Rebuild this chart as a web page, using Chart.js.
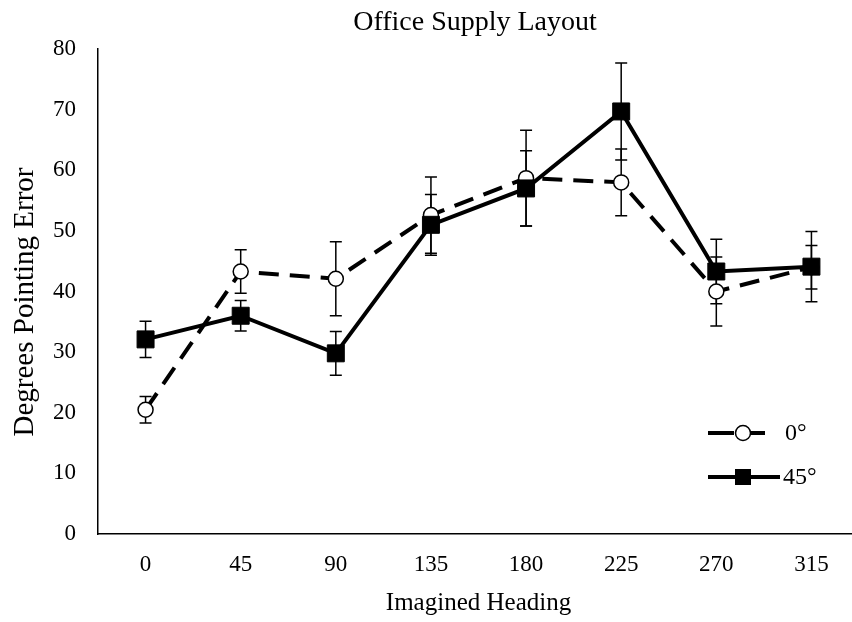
<!DOCTYPE html>
<html>
<head>
<meta charset="utf-8">
<script src="https://cdn.jsdelivr.net/npm/chart.js@4"></script>
<style>
  html, body { margin: 0; padding: 0; background: #fff; overflow: hidden; }
  #wrap { position: absolute; left: 0; top: 0; width: 872px; height: 622px; }
</style>
</head>
<body>
<div id="wrap"><canvas id="chart" width="872" height="622"></canvas></div>
<script>
// Данные графика
const headings = ['0', '45', '90', '135', '180', '225', '270', '315'];
const mean0 = [20.5, 43.3, 42.1, 52.6, 58.7, 58.0, 40.0, 44.0];
const err0 = [2.2, 3.6, 6.1, 6.3, 7.9, 5.5, 5.7, 3.6];
const mean45 = [32.1, 36.0, 29.8, 51.0, 57.0, 69.7, 43.3, 44.1];
const err45 = [3.0, 2.5, 3.6, 5.0, 6.2, 8.0, 5.3, 5.8];
const seriesNames = ['0°', '45°'];
const yTicks = [0, 10, 20, 30, 40, 50, 60, 70, 80];

const FONT = '"Liberation Serif", "Times New Roman", serif';

// Планки погрешностей
const errorBars = {
    id: 'errorBars',
    beforeDatasetsDraw(chart) {
        const ctx = chart.ctx;
        const yScale = chart.scales.y;
        ctx.save();
        ctx.strokeStyle = '#000';
        ctx.lineWidth = 1.5;
        chart.data.datasets.forEach((ds, i) => {
            const meta = chart.getDatasetMeta(i);
            meta.data.forEach((pt, j) => {
                const e = ds.errors[j];
                const v = ds.data[j];
                const yTop = yScale.getPixelForValue(v + e);
                const yBot = yScale.getPixelForValue(v - e);
                const x = pt.x;
                ctx.beginPath();
                ctx.moveTo(x, yTop); ctx.lineTo(x, yBot);
                ctx.moveTo(x - 6, yTop); ctx.lineTo(x + 6, yTop);
                ctx.moveTo(x - 6, yBot); ctx.lineTo(x + 6, yBot);
                ctx.stroke();
            });
        });
        ctx.restore();
    }
};

// Заголовки и легенда
const extras = {
    id: 'extras',
    afterDraw(chart) {
        const ctx = chart.ctx;
        ctx.save();
        ctx.fillStyle = '#000';
        ctx.font = '28px ' + FONT;
        ctx.textAlign = 'center';
        ctx.textBaseline = 'middle';
        ctx.fillText('Office Supply Layout', 475, 23);

        // подпись оси Y
        ctx.save();
        ctx.translate(25, 302);
        ctx.rotate(-Math.PI / 2);
        ctx.font = '29px ' + FONT;
        ctx.fillText('Degrees Pointing Error', 0, 0);
        ctx.restore();

        // легенда
        const lx = 708;
        const y0 = 433, y1 = 477;
        ctx.strokeStyle = '#000';
        ctx.lineWidth = 4;
        ctx.setLineDash([26, 10]);
        ctx.beginPath(); ctx.moveTo(lx, y0); ctx.lineTo(765, y0); ctx.stroke();
        ctx.setLineDash([]);
        ctx.beginPath(); ctx.moveTo(lx, y1); ctx.lineTo(780, y1); ctx.stroke();

        ctx.lineWidth = 1.5;
        ctx.fillStyle = '#fff';
        ctx.beginPath(); ctx.arc(743, y0, 7.5, 0, Math.PI * 2); ctx.fill(); ctx.stroke();
        ctx.fillStyle = '#000';
        ctx.fillRect(743 - 8, y1 - 8, 16, 16);

        ctx.font = '24px ' + FONT;
        ctx.textAlign = 'left';
        ctx.fillText(seriesNames[0], 785, y0 + 1);
        ctx.fillText(seriesNames[1], 783, y1 + 1);
        ctx.restore();
    }
};

const chart = new Chart(document.getElementById('chart').getContext('2d'), {
    type: 'line',
    data: {
        labels: headings,
        datasets: [
            {
                label: seriesNames[0],
                data: mean0,
                errors: err0,
                order: 2,
                borderColor: '#000',
                borderWidth: 4,
                borderDash: [20, 11],
                pointStyle: 'circle',
                pointRadius: 7.5,
                pointBorderWidth: 1.5,
                pointBackgroundColor: '#fff',
                pointBorderColor: '#000',
                tension: 0
            },
            {
                label: seriesNames[1],
                data: mean45,
                errors: err45,
                order: 1,
                borderColor: '#000',
                borderWidth: 4,
                pointStyle: 'rect',
                pointRadius: 12,
                pointBorderWidth: 1,
                pointBackgroundColor: '#000',
                pointBorderColor: '#000',
                tension: 0
            }
        ]
    },
    options: {
        responsive: false,
        animation: false,
        events: [],
        layout: { padding: { top: 49, right: 0, left: 0, bottom: 0 } },
        plugins: {
            legend: { display: false },
            title: { display: false },
            tooltip: { enabled: false }
        },
        scales: {
            x: {
                type: 'category',
                offset: true,
                grid: { display: false, drawTicks: false, offset: true },
                border: { display: true, color: '#000', width: 1.5 },
                ticks: { color: '#000', font: { family: FONT, size: 23 }, padding: 17, maxRotation: 0 },
                title: { display: true, text: 'Imagined Heading', color: '#000', font: { family: FONT, size: 25 }, padding: { top: 13 } },
                afterFit(scale) { scale.height = 88; }
            },
            y: {
                min: 0,
                max: 80,
                afterBuildTicks(scale) { scale.ticks = yTicks.map(v => ({ value: v })); },
                grid: { display: false, drawTicks: false },
                border: { display: true, color: '#000', width: 1.5 },
                ticks: { color: '#000', font: { family: FONT, size: 23 }, padding: 22 },
                afterFit(scale) { scale.width = 98; }
            }
        }
    },
    plugins: [errorBars, extras]
});
</script>
</body>
</html>
